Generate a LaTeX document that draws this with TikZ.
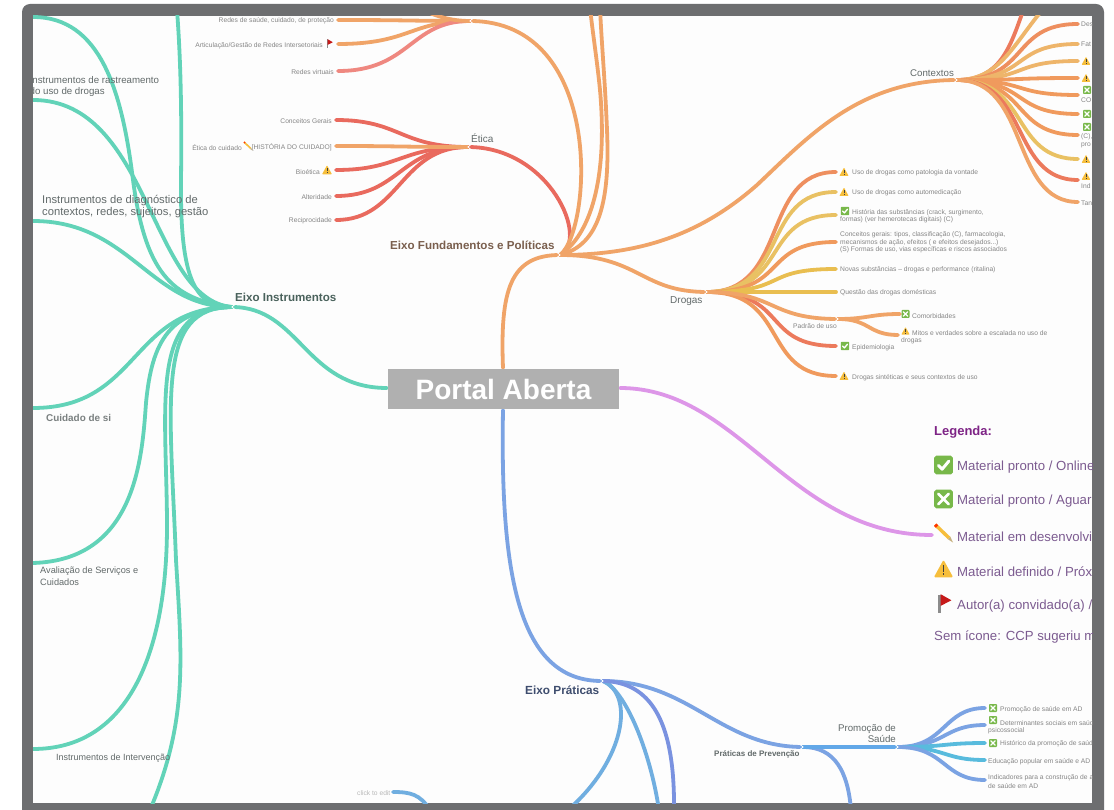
\documentclass[tikz,border=0pt]{standalone}
\usepackage{fontspec}
\setmainfont{Liberation Sans}
\definecolor{frameC}{HTML}{6D6E70}
\definecolor{paper}{HTML}{FDFDFD}
\definecolor{teal}{HTML}{62D3B8}
\definecolor{orA}{HTML}{F0A468}
\definecolor{orB}{HTML}{EE8F5F}
\definecolor{orC}{HTML}{EEB56A}
\definecolor{orD}{HTML}{E9C163}
\definecolor{orE}{HTML}{EC7A5C}
\definecolor{orF}{HTML}{F09A5D}
\definecolor{orG}{HTML}{E9BE50}
\definecolor{redA}{HTML}{E96A5E}
\definecolor{redB}{HTML}{EF8880}
\definecolor{lav}{HTML}{DD96E8}
\definecolor{blA}{HTML}{7BA3E3}
\definecolor{blB}{HTML}{7A92E0}
\definecolor{blC}{HTML}{70AEE0}
\definecolor{blD}{HTML}{58BBDD}
\definecolor{blE}{HTML}{62A8E8}
\definecolor{txtL}{HTML}{858585}
\definecolor{txtM}{HTML}{626A6A}
\definecolor{legT}{HTML}{7C5B90}
\definecolor{okG}{HTML}{78B84A}
\definecolor{warnY}{HTML}{F6BE3C}
\definecolor{axF}{HTML}{7A5F4E}
\definecolor{axI}{HTML}{4A625C}
\definecolor{axP}{HTML}{3E4D6E}
\tikzset{
  x=1pt,y=-1pt,
  br/.style={line width=3.8pt,line cap=round},
  leaf/.style={inner sep=0pt,text=txtL,font=\fontsize{6.7}{7.6}\selectfont,anchor=west,yshift=-0.7pt},
  leafR/.style={leaf,anchor=east},
  mid/.style={inner sep=0pt,text=txtM,font=\fontsize{9.7}{11.5}\selectfont,anchor=west,align=left,yshift=-0.7pt},
  axis/.style={inner sep=0pt,font=\bfseries\fontsize{11.6}{12}\selectfont,anchor=west,yshift=-0.7pt},
  leg/.style={inner sep=0pt,text=legT,font=\fontsize{13.2}{14}\selectfont,anchor=west,yshift=-1.4pt},
}
\newcommand{\okbox}[3]{\begin{scope}[shift={(#1,#2)},scale=#3]
 \fill[okG,rounded corners=#3*0.2pt] (-1,-1) rectangle (1,1);
 \draw[white,line width=#3*0.32pt,line cap=round,line join=round] (-.55,.05)--(-.15,.45)--(.58,-.42);
\end{scope}}
\newcommand{\xbox}[3]{\begin{scope}[shift={(#1,#2)},scale=#3]
 \fill[okG,rounded corners=#3*0.2pt] (-1,-1) rectangle (1,1);
 \draw[white,line width=#3*0.3pt,line cap=round] (-.55,-.55)--(.55,.55) (-.55,.55)--(.55,-.55);
\end{scope}}
\newcommand{\warnic}[3]{\begin{scope}[shift={(#1,#2)},scale=#3]
 \fill[warnY,rounded corners=#3*0.15pt] (0,-1.05)--(1.1,.95)--(-1.1,.95)--cycle;
 \draw[black!75,line width=#3*0.2pt] (0,-.4)--(0,.3) (0,.5)--(0,.72);
\end{scope}}
\newcommand{\pencilic}[3]{\begin{scope}[shift={(#1,#2)},scale=#3]
 \fill[warnY] (-.75,-1)--(-1,-.75)--(.45,.65)--(.72,.4)--cycle;
 \fill[red!60!orange] (-.75,-1)--(-1,-.75)--(-.8,-.55)--(-.55,-.8)--cycle;
 \fill[black!35!warnY!60!white] (.45,.65)--(.72,.4)--(1,1)--cycle;
\end{scope}}
\newcommand{\flagic}[3]{\begin{scope}[shift={(#1,#2)},scale=#3]
 \fill[black!45] (-.55,-1)rectangle(-.3,1);
 \fill[red!75!black!90] (-.3,-1.05)--(.85,-.4)--(-.3,.2)--cycle;
\end{scope}}
% small chevrons at the hubs
\newcommand{\chevL}[1]{\draw[white,line width=.8pt] ([shift={(2.5,-2.2)}]#1)--(#1)--([shift={(2.5,2.2)}]#1);}
\newcommand{\chevR}[1]{\draw[white,line width=.8pt] ([shift={(-2.5,-2.2)}]#1)--(#1)--([shift={(-2.5,2.2)}]#1);}
\begin{document}
\begin{tikzpicture}
\useasboundingbox (0,0) rectangle (1114,810);
\fill[white] (0,0) rectangle (1114,810);
\fill[frameC] (22,810) [rounded corners=8pt] -- (22,4) -- (1104,4) [sharp corners] -- (1104,810) -- cycle;
\fill[paper] (33,16) rectangle (1092,803);
\begin{scope}
\clip (33,16) rectangle (1092,803);
% ---------- named points
\coordinate (rootW) at (387,388);
\coordinate (rootN) at (503,368);
\coordinate (rootS) at (503,410);
\coordinate (rootE) at (620,388);
\coordinate (inst) at (232,307);
\coordinate (fund) at (560,255);
\coordinate (prat) at (603,681);
\coordinate (etica) at (468,147);
\coordinate (redes) at (470,21);
\coordinate (ctx) at (957,80);
\coordinate (drg) at (707,292);
\coordinate (pad) at (838,319);
\coordinate (prev) at (803,747);
\coordinate (prom) at (898,747);
\coordinate (legend) at (932,535);
\coordinate (iCuid) at (33,408);
\coordinate (iAval) at (33,563);
\coordinate (iInt) at (33,749);
\coordinate (iOut) at (150,810);
\coordinate (iDiag) at (33,221);
\coordinate (iRast) at (33,100);
\coordinate (iTop) at (33,17);
\coordinate (iUp) at (177,10);
\coordinate (fUpA) at (590,8);
\coordinate (fUpB) at (600,8);
\coordinate (rUp) at (405,8);
\coordinate (cUpA) at (1024,8);
\coordinate (cUpB) at (1044,8);
\coordinate (pOutA) at (674,810);
\coordinate (pOutB) at (659,810);
\coordinate (pOutC) at (568,810);
\coordinate (pvOut) at (851,810);
\coordinate (clk) at (393,792);
\coordinate (clkOut) at (430,810);
% ---------- main branches
\draw[br,teal] (rootW) .. controls (305,388) and (300,307) .. (inst);
\draw[br,orA] (rootN) .. controls (500,290) and (510,255) .. (fund);
\draw[br,blA] (rootS) .. controls (500,580) and (520,682) .. (prat);
\draw[br,lav] (rootE) .. controls (740,388) and (790,535) .. (legend);
% ---------- Eixo Instrumentos
\draw[br,teal] (inst) .. controls (130,307) and (140,408) .. (iCuid);
\draw[br,teal] (inst) .. controls (170,310) and (152,340) .. (146,403) .. controls (142,460) and (135,560) .. (iAval);
\draw[br,teal] (inst) .. controls (150,307) and (166,400) .. (167,520) .. controls (168,650) and (130,749) .. (iInt);
\draw[br,teal] (inst) .. controls (155,307) and (170,400) .. (176,560) .. controls (182,660) and (188,720) .. (iOut);
\draw[br,teal] (inst) .. controls (150,307) and (130,221) .. (iDiag);
\draw[br,teal] (inst) .. controls (150,300) and (150,100) .. (iRast);
\draw[br,teal] (inst) .. controls (170,300) and (145,270) .. (133,180) .. controls (122,90) and (100,17) .. (iTop);
\draw[br,teal] (inst) .. controls (195,307) and (180,280) .. (181,180) .. controls (182,100) and (180,50) .. (iUp);
% ---------- Eixo Fundamentos
\draw[br,redA] (fund) .. controls (590,240) and (550,147) .. (etica);
\draw[br,orA] (fund) .. controls (592,230) and (605,21) .. (redes);
\draw[br,orA] (fund) .. controls (590,235) and (608,180) .. (600,90) .. controls (597,60) and (593,35) .. (fUpA);
\draw[br,orA] (fund) .. controls (600,245) and (610,200) .. (607,130) .. controls (605,80) and (602,50) .. (fUpB);
\draw[br,orA] (fund) .. controls (640,255) and (700,235) .. (757,185) .. controls (810,135) and (860,80) .. (ctx);
\draw[br,orA] (fund) .. controls (640,255) and (640,292) .. (drg);
% Redes children
\foreach \n/\y/\c in {a/20/orA,b/44/orA,c/71/redB}{
  \coordinate (rd\n) at (338,\y);
  \draw[br,\c] (redes) .. controls +(-60,0) and +(72,0) .. (rd\n);}
\draw[br,orA] (redes) .. controls +(-40,0) and +(10,-8) .. (rUp);
% Etica children
\foreach \n/\y/\c in {a/120/redA,c/170/redA,d/196/redA,e/220/redA,b/146/orA}{
  \coordinate (et\n) at (336,\y);
  \draw[br,\c] (etica) .. controls +(-68,0) and +(64,0) .. (et\n);}
% Contextos children
\draw[br,orE] (ctx) .. controls +(43,0) and +(-14,40) .. (cUpA);
\draw[br,orC] (ctx) .. controls +(43,0) and +(-30,35) .. (cUpB);
\foreach \n/\y/\c in {a/24/orB,b/44/orC,c/61/orC,d/78/orF,e/95/orF,f/114/orF,g/135/orF,h/159/orD,i/180/orE,j/202/orA}{
  \coordinate (cx\n) at (1078,\y);
  \draw[br,\c] (ctx) .. controls +(73,0) and +(-68,0) .. (cx\n);}
% Drogas children
\foreach \n/\y/\c in {a/172/orB,b/192/orD,c/215/orD,d/242/orF,e/269/orG,f/292/orG,h/346/orE,i/376/orF}{
  \coordinate (dg\n) at (836,\y);
  \draw[br,\c] (drg) .. controls +(83,0) and +(-76,0) .. (dg\n);}
\draw[br,orA] (drg) .. controls +(70,0) and +(-70,0) .. (pad);
\coordinate (pda) at (900,314);
\coordinate (pdb) at (898,335);
\draw[br,orA] (pad) .. controls +(30,0) and +(-30,0) .. (pda);
\draw[br,orA] (pad) .. controls +(32,0) and +(-30,0) .. (pdb);
% ---------- Eixo Praticas
\draw[br,blA] (prat) .. controls (690,681) and (720,747) .. (prev);
\draw[br,blC] (prat) .. controls (635,695) and (625,760) .. (pOutC);
\draw[br,blC] (prat) .. controls (625,690) and (650,750) .. (pOutB);
\draw[br,blB] (prat) .. controls (650,682) and (675,720) .. (pOutA);
\draw[br,blA] (prev) .. controls +(32,0) and +(-3,-38) .. (pvOut);
\draw[br,blE] (prev) -- (prom);
\foreach \n/\y/\c in {a/708/blA,b/725/blA,c/743/blD,d/760/blD,e/780/blA}{
  \coordinate (pm\n) at (985,\y);
  \draw[br,\c] (prom) .. controls +(48,0) and +(-42,0) .. (pm\n);}
\draw[br,blC] (clk) .. controls +(17,0) and +(-10,-16) .. (clkOut);
% chevrons
\chevL{inst}\chevL{etica}\chevL{redes}\chevR{fund}\chevR{ctx}\chevR{drg}\chevR{pad}\chevR{prat}\chevR{prev}\chevR{prom}
% ---------- labels: axes
\node[axis,text=axF] (tFund) at (390,245) {Eixo Fundamentos e Políticas};
\node[axis,text=axI] (tInst) at (235,297) {Eixo Instrumentos};
\node[axis,text=axP,font=\bfseries\fontsize{11.8}{12}\selectfont] (tPrat) at (525,690) {Eixo Práticas};
\node[mid,font=\fontsize{10}{12}\selectfont] (tEtica) at (471,138) {Ética};
\node[mid] (tCtx) at (910,72) {Contextos};
\node[mid,font=\fontsize{10}{12}\selectfont] (tDrg) at (670,300) {Drogas};
\node[leaf] (tPad) at (793,325) {Padrão de uso};
\node[mid] (tRast) at (29.5,86) {Instrumentos de rastreamento\\do uso de drogas};
\node[mid,font=\fontsize{11.2}{12}\selectfont] (tDiag) at (42,206) {Instrumentos de diagnóstico de\\contextos, redes, sujeitos, gestão};
\node[mid,font=\bfseries\fontsize{9.9}{11}\selectfont,text=txtM!85] (tCuid) at (46,417) {Cuidado de si};
\node[mid,font=\fontsize{9.2}{12}\selectfont] (tAval) at (40,576) {Avaliação de Serviços e\\Cuidados};
\node[mid,font=\fontsize{9}{11}\selectfont] (tInt) at (56,757) {Instrumentos de Intervenção};
\node[mid,align=right,anchor=east] (tProm) at (896,733) {Promoção de\\Saúde};
\node[axis,font=\bfseries\fontsize{8}{9}\selectfont,text=txtM] (tPrev) at (714,754) {Práticas de Prevenção};
\node[leaf,text=black!28] (tClick) at (357,792) {click to edit};
% Redes / Etica leaves
\node[leafR] (la1) at (334,20) {Redes de saúde, cuidado, de proteção};
\node[leafR] (la2) at (323,45) {Articulação/Gestão de Redes Intersetoriais};
\flagic{329}{44}{4.5}
\node[leafR] (la3) at (334,71) {Redes virtuais};
\node[leafR] (lb1) at (332,120) {Conceitos Gerais};
\node[leafR] (lb2) at (332,147) {[HISTÓRIA DO CUIDADO]};
\pencilic{248}{146}{4.5}
\node[leafR] (lb2b) at (242,147) {Ética do cuidado};
\node[leafR] (lb3) at (320,171) {Bioética};
\warnic{327}{170}{4.5}
\node[leafR] (lb4) at (332,196) {Alteridade};
\node[leafR] (lb5) at (332,220) {Reciprocidade};
% Drogas leaves
\warnic{844}{172}{4.2}\node[leaf] (ld1) at (852,172) {Uso de drogas como patologia da vontade};
\warnic{844}{192}{4.2}\node[leaf] (ld2) at (852,192) {Uso de drogas como automedicação};
\okbox{845}{211}{4.2}\node[leaf] (ld3) at (852,212) {História das substâncias (crack, surgimento,};
\node[leaf] (ld3b) at (840,219.5) {formas) (ver hemerotecas digitais) (C)};
\node[leaf] (ld4) at (840,234) {Conceitos gerais: tipos, classificação (C), farmacologia,};
\node[leaf] (ld4b) at (840,242) {mecanismos de ação, efeitos ( e efeitos desejados...)};
\node[leaf] (ld4c) at (840,249.5) {(S) Formas de uso, vias específicas e riscos associados};
\node[leaf] (ld5) at (840,269) {Novas substâncias – drogas e performance (ritalina)};
\node[leaf] (ld6) at (840,292) {Questão das drogas domésticas};
\xbox{905.5}{314}{4}\node[leaf] (ld7) at (912,315) {Comorbidades};
\warnic{905.5}{331}{3.8}\node[leaf] (ld8) at (912,332) {Mitos e verdades sobre a escalada no uso de};
\node[leaf] (ld8b) at (901,340) {drogas};
\okbox{845}{346}{4.2}\node[leaf] (ld9) at (852,347) {Epidemiologia};
\warnic{844}{376}{4.2}\node[leaf] (ld10) at (852,377) {Drogas sintéticas e seus contextos de uso};
% Contextos leaves
\node[leaf] (lc1) at (1081,24) {Des};
\node[leaf] (lc2) at (1081,44) {Fat};
\warnic{1086}{61}{4}
\warnic{1086}{78}{4}
\xbox{1087}{90}{4}\node[leaf] (lc3) at (1081,99) {CO};
\xbox{1087}{114}{4}
\xbox{1087}{127}{4}\node[leaf] (lc4) at (1081,136) {(C),};
\node[leaf] (lc4b) at (1081,145) {pro};
\warnic{1086}{159}{4}
\warnic{1086}{176}{4}\node[leaf] (lc5) at (1081,185) {Ind};
\node[leaf] (lc6) at (1081,203) {Tan};
% Promocao leaves
\xbox{993}{708}{4}\node[leaf] (lp1) at (1000,709) {Promoção de saúde em AD};
\xbox{993}{720}{4}\node[leaf] (lp2) at (1000,722) {Determinantes sociais em saúd};
\node[leaf] (lp2b) at (988,730) {psicossocial};
\xbox{993}{743}{4}\node[leaf] (lp3) at (1000,743) {Histórico da promoção de saúd};
\node[leaf] (lp4) at (988,761) {Educação popular em saúde e AD};
\node[leaf] (lp5) at (988,777) {Indicadores para a construção de a};
\node[leaf] (lp5b) at (988,785) {de saúde em AD};
% Legend
\node[leg,font=\bfseries\fontsize{13}{14}\selectfont,text=violet!60!legT] (lgT) at (934,431) {Legenda:};
\okbox{943.5}{465}{9.3}\node[leg] (lg1) at (957,466) {Material pronto / Online};
\xbox{943.5}{499}{9.3}\node[leg] (lg2) at (957,500) {Material pronto / Aguar};
\pencilic{943.5}{533}{9.5}\node[leg] (lg3) at (957,535) {Material em desenvolvi};
\warnic{943.5}{569}{8.8}\node[leg] (lg4) at (957,570) {Material definido / Próx};
\flagic{943.5}{604}{9.3}\node[leg] (lg5) at (957,605) {Autor(a) convidado(a) /};
\node[leg] (lg6) at (934,636) {Sem ícone: CCP sugeriu m};
\end{scope}
% ---------- root node
\node[fill=black!31,minimum width=231pt,minimum height=40pt,inner sep=0pt,text=white,font=\bfseries\fontsize{28}{30}\selectfont] (root) at (503.5,389) {Portal Aberta};
\end{tikzpicture}
\end{document}
